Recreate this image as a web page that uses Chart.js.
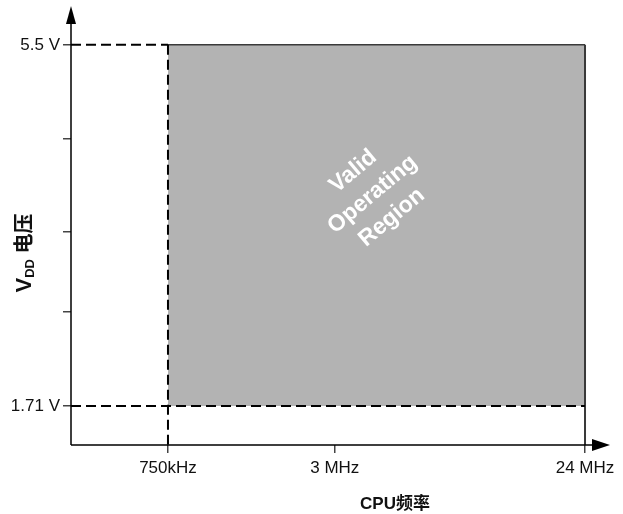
<!DOCTYPE html>
<html>
<head>
<meta charset="utf-8">
<script src="https://cdn.jsdelivr.net/npm/chart.js@4.4.0/dist/chart.umd.min.js"></script>
<style>
  html, body { margin: 0; background: #fff; }
  #wrap { width: 623px; height: 514px; }
</style>
</head>
<body>
<div id="wrap"><canvas id="chart" width="623" height="514"></canvas></div>
<script>
// CPU frequency ticks (kHz) and their labels
const freqTicks = [750, 3000, 24000]
const freqLabels = ['750kHz', '3 MHz', '24 MHz']
// voltage axis is schematic: tick slots, only the two ends carry a label
const voltTicks = [1, 2.04, 2.93, 3.96, 5]
const voltLabels = ['1.71 V', '', '', '', '5.5 V']
const regionText = ['Valid', 'Operating', 'Region']

const fMin = 750, fMax = 24000   // valid frequency range
const vMin = 1, vMax = 5         // slots of 1.71 V and 5.5 V
const xLo = 335, xHi = 29540     // axis extent
const yLo = 0.568, yHi = 5.43

const sans = "'Liberation Sans', Arial, 'Noto Sans CJK SC', sans-serif"
const ink = '#111'
const edge = '#3a3a3a'

const dash = { borderColor: '#000', borderWidth: 2, borderDash: [10, 5], pointRadius: 0, showLine: true, fill: false, order: 1 }

const drawing = {
  id: 'drawing',
  afterDraw(chart) {
    const { ctx, chartArea: a } = chart
    ctx.save()
    // axes with arrow heads
    ctx.strokeStyle = '#000'
    ctx.fillStyle = '#000'
    ctx.lineWidth = 1.5
    ctx.beginPath()
    ctx.moveTo(a.left, a.bottom); ctx.lineTo(a.left, a.top + 14)
    ctx.moveTo(a.left, a.bottom); ctx.lineTo(a.right - 14, a.bottom)
    ctx.stroke()
    ctx.beginPath()
    ctx.moveTo(a.left, a.top); ctx.lineTo(a.left - 5, a.top + 18); ctx.lineTo(a.left + 5, a.top + 18)
    ctx.closePath(); ctx.fill()
    ctx.beginPath()
    ctx.moveTo(a.right, a.bottom); ctx.lineTo(a.right - 18, a.bottom - 6); ctx.lineTo(a.right - 18, a.bottom + 6)
    ctx.closePath(); ctx.fill()

    // label inside the region
    const sx = chart.scales.x, sy = chart.scales.y
    const cx = (sx.getPixelForValue(fMin) + sx.getPixelForValue(fMax)) / 2 - 4
    const cy = (sy.getPixelForValue(vMin) + sy.getPixelForValue(vMax)) / 2 - 31
    ctx.save()
    ctx.translate(cx, cy)
    ctx.rotate(-40 * Math.PI / 180)
    ctx.fillStyle = '#fff'
    ctx.font = 'bold 23px ' + sans
    ctx.textAlign = 'center'
    ctx.textBaseline = 'middle'
    regionText.forEach((t, i) => ctx.fillText(t, 0, (i - 1) * 30))
    ctx.restore()

    // y title: V with DD subscript, then 电压
    ctx.save()
    ctx.translate(23, 253)
    ctx.rotate(-Math.PI / 2)
    ctx.fillStyle = ink
    ctx.textBaseline = 'alphabetic'
    ctx.textAlign = 'left'
    const parts = [['V', 'bold 22px ', 0], ['DD', 'bold 13px ', 3], [' 电压', 'bold 20px ', 0]]
    let w = 0
    parts.forEach(p => { ctx.font = p[1] + sans; w += ctx.measureText(p[0]).width })
    let px = -w / 2
    parts.forEach(p => {
      ctx.font = p[1] + sans
      ctx.fillText(p[0], px, 8 + p[2])
      px += ctx.measureText(p[0]).width
    })
    ctx.restore()

    // x title
    ctx.fillStyle = ink
    ctx.font = 'bold 17px ' + sans
    ctx.textAlign = 'center'
    ctx.textBaseline = 'middle'
    ctx.fillText('CPU频率', 395, 504)
    ctx.restore()
  }
}

new Chart(document.getElementById('chart'), {
  type: 'scatter',
  data: {
    datasets: [
      { data: [{ x: fMin, y: vMax }, { x: fMax, y: vMax }], fill: { value: vMin }, backgroundColor: '#b3b3b3',
        borderColor: edge, borderWidth: 1.5, pointRadius: 0, showLine: true, order: 5 },
      { data: [{ x: fMax, y: vMax }, { x: fMax, y: yLo }], borderColor: edge, borderWidth: 2,
        pointRadius: 0, showLine: true, fill: false, order: 4 },
      { ...dash, data: [{ x: xLo, y: vMax }, { x: fMin, y: vMax }] },
      { ...dash, data: [{ x: xLo, y: vMin }, { x: fMax, y: vMin }] },
      { ...dash, data: [{ x: fMin, y: vMax }, { x: fMin, y: yLo }] }
    ]
  },
  options: {
    responsive: false,
    animation: false,
    layout: { padding: { top: 6, right: 13, left: 0, bottom: 0 } },
    plugins: { legend: { display: false }, tooltip: { enabled: false } },
    scales: {
      x: {
        type: 'logarithmic',
        min: xLo,
        max: xHi,
        afterBuildTicks: s => { s.ticks = freqTicks.map(v => ({ value: v })) },
        afterFit: s => { s.height = 69; s.paddingLeft = 0; s.paddingRight = 0 },
        border: { display: false },
        grid: { drawOnChartArea: false, tickLength: 8, color: '#444', lineWidth: 1.5 },
        ticks: {
          callback: (v, i) => freqLabels[i],
          autoSkip: false, maxRotation: 0, padding: 5,
          color: ink, font: { size: 17, family: sans }
        }
      },
      y: {
        min: yLo,
        max: yHi,
        afterBuildTicks: s => { s.ticks = voltTicks.map(v => ({ value: v })) },
        afterFit: s => { s.width = 71; s.paddingTop = 0; s.paddingBottom = 0 },
        border: { display: false },
        grid: { drawOnChartArea: false, tickLength: 8, color: '#444', lineWidth: 1.5 },
        ticks: {
          callback: (v, i) => voltLabels[i],
          autoSkip: false, padding: 3,
          color: ink, font: { size: 17, family: sans }
        }
      }
    }
  },
  plugins: [drawing]
})
</script>
</body>
</html>
